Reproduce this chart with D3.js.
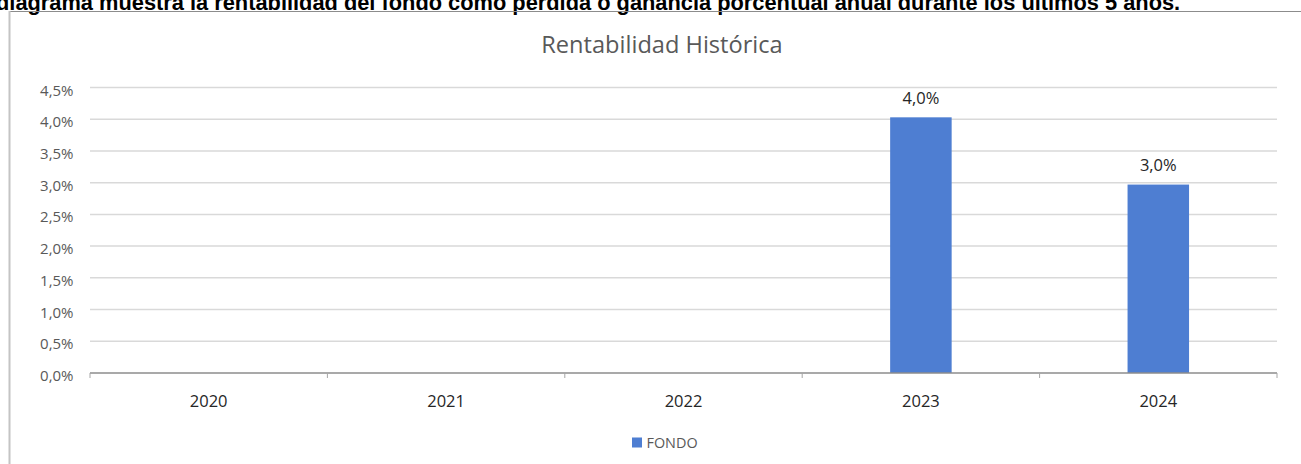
<!DOCTYPE html>
<html>
<head>
<meta charset="utf-8">
<script src="https://cdn.jsdelivr.net/npm/d3@7"></script>
<style>
  html, body { margin: 0; padding: 0; background: #fff; overflow: hidden; }
  svg { display: block; }
</style>
</head>
<body>
<svg id="chart"></svg>
<script>
// ─── Rentabilidad Histórica (bar chart) ─────────────────────

const years = ["2020", "2021", "2022", "2023", "2024"];
const fondo = [null, null, null, 0.0403, 0.0297];
const yTicks = [0, 0.005, 0.01, 0.015, 0.02, 0.025, 0.03, 0.035, 0.04, 0.045];

const W = 1301, H = 464;
const svg = d3.select("#chart").attr("width", W).attr("height", H);

const fmtPct = v => (v * 100).toFixed(1).replace(".", ",") + "%";
const FONT = "'Open Sans', 'Noto Sans', sans-serif";
const BAR = "#4e7ed2";

// Caption, cut off at the top/left of the page as in the source
const caption = svg.append("text")
  .attr("y", 10)
  .attr("font-family", "'Liberation Sans', Arial, sans-serif")
  .attr("font-weight", "bold")
  .attr("font-size", "20px")
  .attr("fill", "#000");
const lead = caption.append("tspan").text("El ");
const body = caption.append("tspan")
  .text("diagrama muestra la rentabilidad del fondo como pérdida o ganancia porcentual anual durante los últimos 5 años.");
// fit the visible part between x=-4 and x=1181
const fs = 20 * 1185 / body.node().getComputedTextLength();
caption.attr("font-size", fs + "px");
caption.attr("x", -lead.node().getComputedTextLength() - 4);

// Frame lines
svg.append("line").attr("x1", 9).attr("x2", W).attr("y1", 11.5).attr("y2", 11.5)
  .attr("stroke", "#8c8c8c").attr("stroke-width", 1.2);
svg.append("line").attr("x1", 9.5).attr("x2", 9.5).attr("y1", 11).attr("y2", H)
  .attr("stroke", "#c4c4c4").attr("stroke-width", 2);

// Scales
const x = d3.scaleBand().domain(years).range([90, 1277]);
const y = d3.scaleLinear().domain([0, 0.045]).range([373, 87.5]);
const barW = 61.5;

// Title
svg.append("text")
  .attr("x", 662).attr("y", 53)
  .attr("text-anchor", "middle")
  .attr("font-family", FONT)
  .attr("font-size", "23.6px")
  .attr("fill", "#595959")
  .text("Rentabilidad Histórica");

// Gridlines
svg.append("g").selectAll("line")
  .data(yTicks.filter(t => t > 0))
  .join("line")
  .attr("x1", 90).attr("x2", 1277)
  .attr("y1", d => y(d)).attr("y2", d => y(d))
  .attr("stroke", "#d9d9d9").attr("stroke-width", 1.5);

// Y labels
svg.append("g").selectAll("text")
  .data(yTicks)
  .join("text")
  .attr("x", 73.5).attr("y", d => y(d) + 8)
  .attr("text-anchor", "end")
  .attr("font-family", FONT)
  .attr("font-size", "15px")
  .attr("fill", "#595959")
  .text(fmtPct);

// Bars
const bars = years.map((yr, i) => ({ yr, v: fondo[i] })).filter(d => d.v != null);
svg.append("g").selectAll("rect")
  .data(bars)
  .join("rect")
  .attr("x", d => x(d.yr) + (x.bandwidth() - barW) / 2)
  .attr("width", barW)
  .attr("y", d => y(d.v))
  .attr("height", d => y(0) - y(d.v))
  .attr("fill", BAR);

// Bar labels
svg.append("g").selectAll("text")
  .data(bars)
  .join("text")
  .attr("x", d => x(d.yr) + x.bandwidth() / 2)
  .attr("y", d => y(d.v) - 13.3)
  .attr("text-anchor", "middle")
  .attr("font-family", FONT)
  .attr("font-size", "16.5px")
  .attr("fill", "#262626")
  .text(d => fmtPct(d.v));

// X axis
const xAxis = svg.append("g");
xAxis.append("line")
  .attr("x1", 90).attr("x2", 1277)
  .attr("y1", y(0)).attr("y2", y(0))
  .attr("stroke", "#8c8c8c").attr("stroke-width", 1.5);
xAxis.selectAll(".tick")
  .data(years.map(d => x(d)).concat([1277]))
  .join("line")
  .attr("x1", d => d).attr("x2", d => d)
  .attr("y1", y(0)).attr("y2", y(0) + 5)
  .attr("stroke", "#a6a6a6").attr("stroke-width", 1);
xAxis.selectAll("text")
  .data(years)
  .join("text")
  .attr("x", d => x(d) + x.bandwidth() / 2)
  .attr("y", 406.5)
  .attr("text-anchor", "middle")
  .attr("font-family", FONT)
  .attr("font-size", "16.5px")
  .attr("fill", "#262626")
  .text(d => d);

// Legend
const legend = svg.append("g");
legend.append("rect")
  .attr("x", 632).attr("y", 437.5).attr("width", 10).attr("height", 10)
  .attr("fill", BAR);
legend.append("text")
  .attr("x", 646.5).attr("y", 447.5)
  .attr("font-family", FONT)
  .attr("font-size", "14.4px")
  .attr("fill", "#595959")
  .text("FONDO");
</script>
</body>
</html>
